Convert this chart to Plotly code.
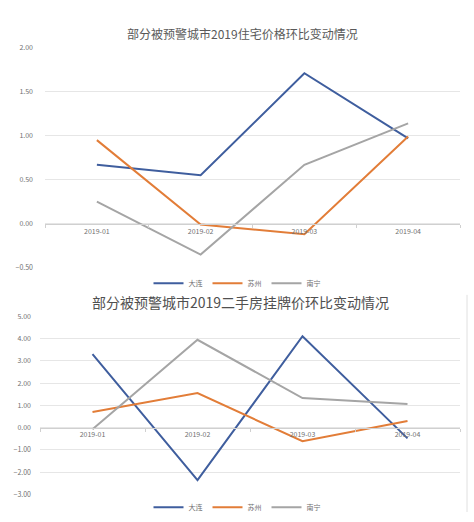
import plotly.graph_objects as go

# Data
months = ["2019-01", "2019-02", "2019-03", "2019-04"]
cities = ["大连", "苏州", "南宁"]

# 住宅价格环比 (%)
new_dalian = [0.67, 0.55, 1.71, 0.97]
new_suzhou = [0.95, -0.01, -0.12, 0.99]
new_nanning = [0.25, -0.35, 0.67, 1.14]

# 二手房挂牌价环比 (%)
used_dalian = [3.30, -2.35, 4.10, -0.48]
used_suzhou = [0.70, 1.55, -0.61, 0.30]
used_nanning = [-0.07, 3.94, 1.33, 1.06]

top_ticks = [-0.5, 0.0, 0.5, 1.0, 1.5, 2.0]
bottom_ticks = [-3, -2, -1, 0, 1, 2, 3, 4, 5]

colors = ["#3F5E9E", "#E27D38", "#A5A5A5"]
W, H = 474, 522
FONT = "Noto Sans CJK SC"


def py(px):
    """pixel row -> paper fraction"""
    return 1 - px / H


fig = go.Figure()

for series, name, color in zip([new_dalian, new_suzhou, new_nanning], cities, colors):
    fig.add_trace(go.Scatter(x=months, y=series, name=name, mode="lines",
                             line=dict(color=color, width=2),
                             xaxis="x", yaxis="y", legend="legend"))

for series, name, color in zip([used_dalian, used_suzhou, used_nanning], cities, colors):
    fig.add_trace(go.Scatter(x=months, y=series, name=name, mode="lines",
                             line=dict(color=color, width=2),
                             xaxis="x2", yaxis="y2", legend="legend2"))

tick_font = dict(family=FONT, size=7, color="#707070")
grid = "#E6E6E6"
cat_range = [-0.5, len(months) - 0.5]
legend_font = dict(family=FONT, size=7, color="#707070")

fig.update_layout(
    width=W, height=H,
    margin=dict(l=0, r=0, t=0, b=0),
    paper_bgcolor="white", plot_bgcolor="white",
    font=dict(family=FONT),
    xaxis=dict(domain=[45 / W, 460 / W], anchor="free", position=py(225),
               type="category", range=cat_range, showgrid=False, showline=True,
               linecolor="#D0D0D0", ticks="outside", tickson="boundaries", ticklen=3,
               tickcolor="#D0D0D0", tickfont=tick_font),
    yaxis=dict(domain=[py(270), py(43)], anchor="x", range=[-0.5, 2.0],
               tickvals=top_ticks, tickformat=".2f", showgrid=True, gridcolor=grid,
               zeroline=False, showline=False, tickfont=tick_font, ticklabelstandoff=11),
    xaxis2=dict(domain=[40 / W, 460 / W], anchor="free", position=py(435),
                type="category", range=cat_range, showgrid=False, showline=True,
                linecolor="#D0D0D0", ticks="outside", tickson="boundaries", ticklen=3,
                tickcolor="#D0D0D0", tickfont=tick_font),
    yaxis2=dict(domain=[py(504), py(320)], anchor="x2", range=[-3, 5],
                tickvals=bottom_ticks, tickformat=".2f", showgrid=True, gridcolor=grid,
                zeroline=False, showline=False, tickfont=tick_font, ticklabelstandoff=8),
    legend=dict(orientation="h", x=0.5, xanchor="center", y=py(286), yanchor="middle",
                font=legend_font, itemwidth=30, bgcolor="rgba(0,0,0,0)"),
    legend2=dict(orientation="h", x=0.5, xanchor="center", y=py(517), yanchor="middle",
                 font=legend_font, itemwidth=30, bgcolor="rgba(0,0,0,0)"),
    annotations=[
        dict(text="部分被预警城市2019住宅价格环比变动情况", xref="paper", yref="paper",
             x=243 / W, y=py(28), xanchor="center", yanchor="middle", showarrow=False,
             font=dict(family=FONT, size=12, color="#595959")),
        dict(text="部分被预警城市2019二手房挂牌价环比变动情况", xref="paper", yref="paper",
             x=240 / W, y=py(305), xanchor="center", yanchor="middle", showarrow=False,
             font=dict(family=FONT, size=14, color="#505050")),
    ],
    shapes=[
        dict(type="line", xref="paper", yref="paper", x0=467 / W, x1=467 / W,
             y0=0, y1=py(298), line=dict(color="#E0E0E0", width=1)),
    ],
)

# drop the default page margin so the chart sits at the window's corner
fig.write_html("out.html", config={"displayModeBar": False},
               post_script="document.body.style.margin='0';")
